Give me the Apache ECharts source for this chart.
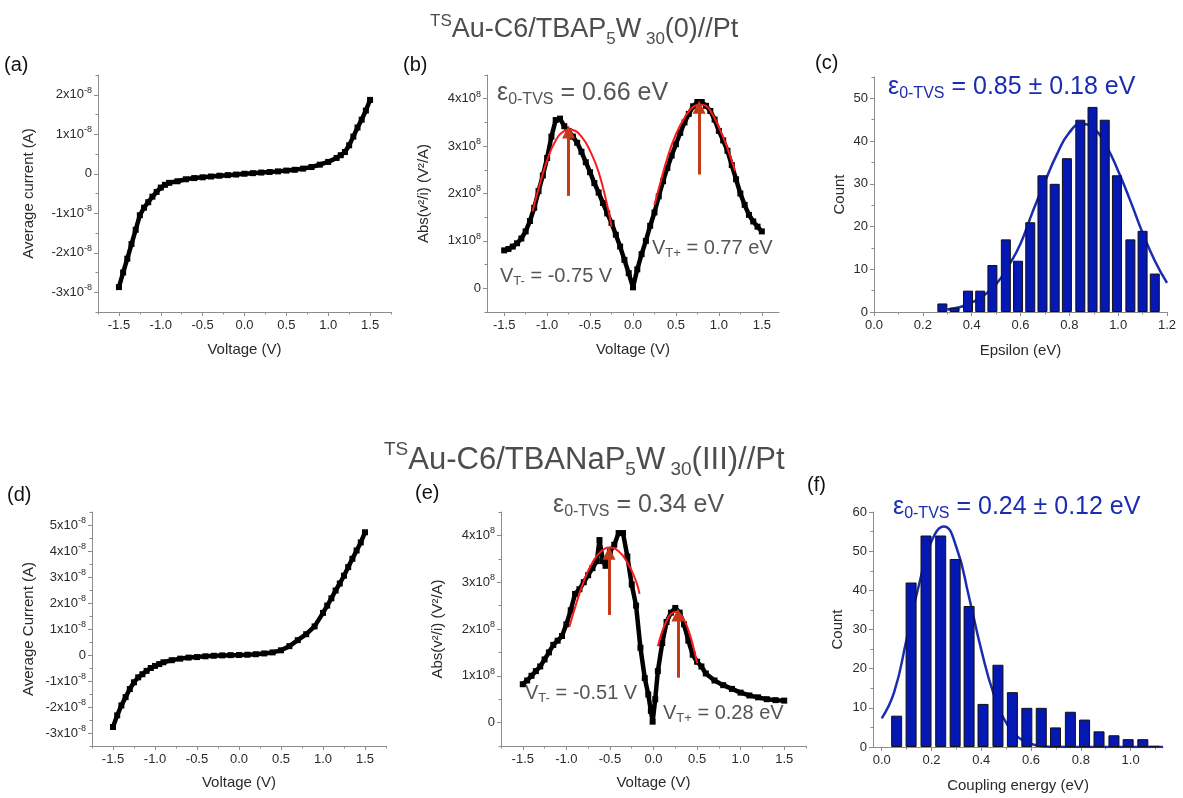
<!DOCTYPE html>
<html>
<head>
<meta charset="utf-8">
<title>TVS</title>
<script src="https://cdn.jsdelivr.net/npm/echarts@6/dist/echarts.min.js"></script>
<style>
  html, body { margin: 0; padding: 0; background: #fff; }
  #chart { width: 1183px; height: 798px; }
</style>
</head>
<body>
<div id="chart"></div>
<script>
// (a) I-V curve, TBAP5W30(0), current in 1e-8 A
const voltA = [-1.5, -1.45, -1.4, -1.35, -1.3, -1.25, -1.2, -1.15, -1.1, -1.05, -1.0, -0.95, -0.9, -0.8, -0.7, -0.6, -0.5, -0.4, -0.3, -0.2, -0.1, 0, 0.1, 0.2, 0.3, 0.4, 0.5, 0.6, 0.7, 0.8, 0.9, 1.0, 1.1, 1.15, 1.2, 1.25, 1.3, 1.35, 1.4, 1.45, 1.5]
const currA = [-2.87, -2.5, -2.15, -1.78, -1.42, -1.05, -0.86, -0.72, -0.58, -0.46, -0.35, -0.28, -0.23, -0.19, -0.14, -0.11, -0.09, -0.07, -0.05, -0.035, -0.02, 0, 0.015, 0.03, 0.045, 0.06, 0.08, 0.1, 0.13, 0.17, 0.23, 0.3, 0.4, 0.47, 0.55, 0.72, 0.94, 1.17, 1.37, 1.6, 1.87]

// (b) Abs(V^2/I), in 1e8 V^2/A
const voltB = [-1.5, -1.45, -1.4, -1.35, -1.3, -1.25, -1.2, -1.15, -1.1, -1.05, -1.0, -0.95, -0.9, -0.85, -0.8, -0.75, -0.7, -0.65, -0.6, -0.55, -0.5, -0.45, -0.4, -0.35, -0.3, -0.25, -0.2, -0.15, -0.1, -0.05, 0, 0.05, 0.1, 0.15, 0.2, 0.25, 0.3, 0.35, 0.4, 0.45, 0.5, 0.55, 0.6, 0.65, 0.7, 0.75, 0.8, 0.85, 0.9, 0.95, 1.0, 1.05, 1.1, 1.15, 1.2, 1.25, 1.3, 1.35, 1.4, 1.45, 1.5]
const absB = [0.8, 0.83, 0.88, 0.95, 1.05, 1.2, 1.42, 1.7, 2.05, 2.38, 2.75, 3.2, 3.55, 3.58, 3.42, 3.32, 3.2, 3.07, 2.88, 2.66, 2.45, 2.22, 2.02, 1.8, 1.58, 1.38, 1.13, 0.88, 0.6, 0.32, 0.02, 0.4, 0.72, 1.0, 1.32, 1.6, 1.94, 2.26, 2.54, 2.8, 3.04, 3.28, 3.5, 3.68, 3.84, 3.93, 3.93, 3.85, 3.74, 3.56, 3.32, 3.12, 2.9, 2.6, 2.3, 2.0, 1.76, 1.55, 1.41, 1.3, 1.2]
const fitBLeftV = [-1.17, -1.1, -1.0, -0.9, -0.8, -0.74, -0.7, -0.6, -0.5, -0.4, -0.3, -0.25]
const fitBLeft = [1.62, 2.1, 2.7, 3.12, 3.32, 3.35, 3.34, 3.2, 2.9, 2.45, 1.75, 1.3]
const fitBRightV = [0.25, 0.3, 0.4, 0.5, 0.6, 0.7, 0.78, 0.85, 0.9, 1.0, 1.1, 1.19]
const fitBRight = [1.76, 2.1, 2.75, 3.25, 3.6, 3.83, 3.88, 3.85, 3.75, 3.4, 2.95, 2.47]
const arrowBX = [-0.75, 0.77]
const arrowBFrom = [1.95, 2.4]
const arrowBTo = [3.3, 3.82]

// (c) histogram of epsilon
const binC = [0.28, 0.33, 0.385, 0.435, 0.485, 0.54, 0.59, 0.64, 0.69, 0.74, 0.79, 0.845, 0.895, 0.945, 0.995, 1.05, 1.1, 1.15]
const countC = [2, 1, 5, 5, 11, 17, 12, 21, 32, 30, 36, 45, 48, 45, 32, 17, 19, 9]
const fitCX = [0.3, 0.35, 0.4, 0.45, 0.5, 0.55, 0.6, 0.65, 0.7, 0.75, 0.8, 0.85, 0.9, 0.95, 1.0, 1.05, 1.1, 1.15, 1.2]
const fitC = [0.6, 1.1, 2.2, 3.9, 6.5, 10.7, 16, 23.5, 30.5, 37, 42, 44, 43, 39, 33, 26, 18.5, 12, 6.8]

// (d) I-V curve, TBANaP5W30(III), current in 1e-8 A
const voltD = [-1.5, -1.45, -1.4, -1.35, -1.3, -1.25, -1.2, -1.15, -1.1, -1.05, -1.0, -0.95, -0.9, -0.8, -0.7, -0.6, -0.5, -0.4, -0.3, -0.2, -0.1, 0, 0.1, 0.2, 0.3, 0.4, 0.5, 0.6, 0.7, 0.8, 0.9, 1.0, 1.05, 1.1, 1.15, 1.2, 1.25, 1.3, 1.35, 1.4, 1.45, 1.5]
const currD = [-2.77, -2.32, -1.94, -1.62, -1.31, -1.05, -0.86, -0.74, -0.61, -0.5, -0.42, -0.35, -0.28, -0.2, -0.14, -0.1, -0.08, -0.05, -0.03, -0.015, -0.005, 0, 0.01, 0.03, 0.06, 0.1, 0.18, 0.34, 0.57, 0.8, 1.1, 1.62, 1.9, 2.18, 2.48, 2.75, 3.05, 3.38, 3.7, 4.02, 4.33, 4.72]

// (e) Abs(V^2/I), in 1e8 V^2/A
const voltE = [-1.5, -1.45, -1.4, -1.35, -1.3, -1.25, -1.2, -1.15, -1.1, -1.05, -1.0, -0.95, -0.9, -0.85, -0.8, -0.75, -0.7, -0.65, -0.62, -0.58, -0.55, -0.5, -0.45, -0.4, -0.35, -0.3, -0.25, -0.2, -0.15, -0.1, -0.06, -0.03, -0.01, 0.02, 0.05, 0.1, 0.15, 0.2, 0.25, 0.3, 0.35, 0.4, 0.45, 0.5, 0.55, 0.6, 0.7, 0.8, 0.9, 1.0, 1.1, 1.2, 1.3, 1.4, 1.5]
const absE = [0.82, 0.9, 1.0, 1.1, 1.2, 1.35, 1.5, 1.66, 1.75, 1.85, 2.1, 2.4, 2.75, 2.85, 3.0, 3.15, 3.3, 3.45, 3.9, 3.45, 3.35, 3.65, 3.8, 4.05, 4.05, 3.55, 2.95, 2.5, 1.6, 0.95, 0.6, 0.25, 0.02, 0.5, 1.1, 1.7, 2.15, 2.35, 2.45, 2.35, 2.1, 1.75, 1.45, 1.3, 1.2, 1.05, 0.9, 0.8, 0.72, 0.64, 0.58, 0.54, 0.5, 0.48, 0.47]
const fitELeftV = [-0.965, -0.9, -0.8, -0.7, -0.6, -0.5, -0.4, -0.3, -0.2, -0.16]
const fitELeft = [2.05, 2.46, 3.02, 3.42, 3.66, 3.74, 3.66, 3.42, 3.02, 2.75]
const fitERightV = [0.05, 0.1, 0.15, 0.2, 0.26, 0.3, 0.35, 0.4, 0.45, 0.5]
const fitERight = [1.63, 1.95, 2.17, 2.32, 2.37, 2.33, 2.2, 1.98, 1.67, 1.27]
const arrowEX = [-0.51, 0.28]
const arrowEFrom = [2.3, 0.96]
const arrowETo = [3.62, 2.3]

// (f) histogram of coupling energy
const binF = [0.06, 0.118, 0.178, 0.237, 0.295, 0.351, 0.407, 0.467, 0.525, 0.583, 0.641, 0.698, 0.758, 0.815, 0.873, 0.933, 0.99, 1.049, 1.095]
const countF = [8, 42, 54, 54, 48, 36, 11, 21, 14, 10, 10, 5, 9, 7, 4, 3, 2, 2, 0.3]
const fitFX = [0, 0.05, 0.1, 0.15, 0.2, 0.25, 0.3, 0.35, 0.4, 0.45, 0.5, 0.55, 0.6, 0.65, 0.7, 0.8, 0.9, 1.0, 1.13]
const fitF = [7.3, 14, 27.5, 41.5, 52.5, 56.3, 51, 38.5, 24.8, 13.5, 6.2, 2.4, 0.8, 0.2, 0.05, 0, 0, 0, 0]

// tick values
const ivTicksX = [-1.5, -1.0, -0.5, 0, 0.5, 1.0, 1.5]
const ivMinorX = [-1.75, -1.25, -0.75, -0.25, 0.25, 0.75, 1.25, 1.75]
const aTicksY = [-3, -2, -1, 0, 1, 2]
const aMinorY = [-3.5, -2.5, -1.5, -0.5, 0.5, 1.5, 2.5]
const dTicksY = [-3, -2, -1, 0, 1, 2, 3, 4, 5]
const dMinorY = [-3.5, -2.5, -1.5, -0.5, 0.5, 1.5, 2.5, 3.5, 4.5, 5.5]
const tvsTicksY = [0, 1, 2, 3, 4]
const tvsMinorY = [-0.5, 0.5, 1.5, 2.5, 3.5, 4.5]
const cTicksX = [0, 0.2, 0.4, 0.6, 0.8, 1.0, 1.2]
const cMinorX = [0.1, 0.3, 0.5, 0.7, 0.9, 1.1]
const cTicksY = [0, 10, 20, 30, 40, 50]
const cMinorY = [5, 15, 25, 35, 45, 55]
const fTicksX = [0, 0.2, 0.4, 0.6, 0.8, 1.0]
const fMinorX = [0.1, 0.3, 0.5, 0.7, 0.9, 1.1]
const fTicksY = [0, 10, 20, 30, 40, 50, 60]
const fMinorY = [5, 15, 25, 35, 45, 55]

const FONT = '"Liberation Sans", Arial, sans-serif'
const AX = '#8c8c8c'
const TXT = '#2a2a2a'
const GRAY = '#555555'
const BLUE = '#1a2db0'
const BAR = '#0518b4'
const RED = '#ff1a1a'
const ARROW = '#c43a18'

const pair = (xs, ys) => xs.map((x, i) => [x, ys[i]])
const fixed1 = (v) => v.toFixed(1)
const sci = (exp) => (v) => (v === 0 ? '0' : '{n|' + v + 'x10}{s|' + exp + '}')
const sciRich = {
  n: { fontSize: 13, color: TXT, lineHeight: 18 },
  s: { fontSize: 9, color: TXT, lineHeight: 10, verticalAlign: 'top' }
}

// main axis + a label-less twin for the minor ticks
const xAxes = (g, min, max, major, minor, fmt, name, gap) => [
  {
    type: 'value', gridIndex: g, min, max, position: 'bottom',
    name, nameLocation: 'middle', nameGap: gap,
    nameTextStyle: { fontSize: 15, color: TXT, fontFamily: FONT },
    axisLine: { onZero: false, lineStyle: { color: AX } },
    axisTick: { customValues: major, length: 4, lineStyle: { color: AX } },
    axisLabel: { customValues: major, formatter: fmt, fontSize: 13, color: TXT, margin: 7 },
    splitLine: { show: false }
  },
  {
    type: 'value', gridIndex: g, min, max, position: 'bottom',
    axisLine: { show: false, onZero: false },
    axisTick: { customValues: minor, length: 2.5, lineStyle: { color: AX } },
    axisLabel: { show: false },
    splitLine: { show: false }
  }
]
const yAxes = (g, min, max, major, minor, fmt, name, gap) => [
  {
    type: 'value', gridIndex: g, min, max, position: 'left',
    name, nameLocation: 'middle', nameGap: gap,
    nameTextStyle: { fontSize: 15, color: TXT, fontFamily: FONT },
    axisLine: { show: true, onZero: false, lineStyle: { color: AX } },
    axisTick: { show: true, customValues: major, length: 4, lineStyle: { color: AX } },
    axisLabel: { customValues: major, formatter: fmt, fontSize: 13, color: TXT, margin: 6, rich: sciRich },
    splitLine: { show: false }
  },
  {
    type: 'value', gridIndex: g, min, max, position: 'left',
    axisLine: { show: false, onZero: false },
    axisTick: { show: true, customValues: minor, length: 2.5, lineStyle: { color: AX } },
    axisLabel: { show: false },
    splitLine: { show: false }
  }
]

const curve = (g, xs, ys) => ({
  type: 'line', xAxisIndex: 2 * g, yAxisIndex: 2 * g, data: pair(xs, ys),
  symbol: 'rect', symbolSize: 6, showSymbol: true,
  itemStyle: { color: '#000' }, lineStyle: { color: '#000', width: 4.5 }, z: 2
})
const fit = (g, xs, ys, color, width, z) => ({
  type: 'line', xAxisIndex: 2 * g, yAxisIndex: 2 * g, data: pair(xs, ys),
  smooth: true, showSymbol: false, lineStyle: { color, width }, z
})
const arrows = (g, xs, from, to) => ({
  type: 'line', xAxisIndex: 2 * g, yAxisIndex: 2 * g, data: [], z: 6,
  markLine: {
    silent: true, symbol: ['none', 'triangle'], symbolSize: 13,
    lineStyle: { color: ARROW, width: 3, type: 'solid' },
    itemStyle: { color: ARROW },
    label: { show: false },
    data: xs.map((x, i) => [{ coord: [x, from[i]] }, { coord: [x, to[i]] }])
  }
})
const hist = (g, xs, ys, width) => ({
  type: 'bar', xAxisIndex: 2 * g, yAxisIndex: 2 * g, data: pair(xs, ys),
  barWidth: width, z: 3,
  itemStyle: { color: BAR, borderColor: '#111', borderWidth: 1 }
})

const txt = (x, y, text, rich, fill, size) => ({
  type: 'text', x, y,
  style: {
    text, rich, fill, font: size + 'px ' + FONT,
    align: 'left', verticalAlign: 'middle', textAlign: 'left', textVerticalAlign: 'middle'
  }
})
const epsRich = (color) => ({
  e: { fontSize: 25, fill: color, fontFamily: FONT, lineHeight: 30 },
  s: { fontSize: 16, fill: color, fontFamily: FONT, lineHeight: 18, verticalAlign: 'bottom' },
  m: { fontSize: 25, fill: color, fontFamily: FONT, lineHeight: 30 }
})
const vtRich = {
  v: { fontSize: 20, fill: GRAY, fontFamily: FONT, lineHeight: 24 },
  s: { fontSize: 13, fill: GRAY, fontFamily: FONT, lineHeight: 14, verticalAlign: 'bottom' }
}
const titleRich = (size) => ({
  m: { fontSize: size, fill: '#4d4d4d', fontFamily: FONT, lineHeight: size + 8 },
  sub: { fontSize: Math.round(size * 0.62), fill: '#4d4d4d', fontFamily: FONT, lineHeight: 14, verticalAlign: 'bottom' },
  sup: { fontSize: Math.round(size * 0.62), fill: '#4d4d4d', fontFamily: FONT, lineHeight: 14, verticalAlign: 'top' }
})

const chart = echarts.init(document.getElementById('chart'))
chart.setOption({
  animation: false,
  backgroundColor: '#fff',
  textStyle: { fontFamily: FONT },
  grid: [
    { left: 98, top: 75, width: 293, height: 237 },
    { left: 487, top: 75, width: 292, height: 237 },
    { left: 874, top: 77, width: 293, height: 235 },
    { left: 92, top: 512, width: 294, height: 234 },
    { left: 501, top: 512, width: 305, height: 234 },
    { left: 873, top: 512, width: 290, height: 235 }
  ],
  xAxis: [
    ...xAxes(0, -1.75, 1.75, ivTicksX, ivMinorX, fixed1, 'Voltage (V)', 30),
    ...xAxes(1, -1.7, 1.7, ivTicksX, ivMinorX, fixed1, 'Voltage (V)', 30),
    ...xAxes(2, 0, 1.2, cTicksX, cMinorX, fixed1, 'Epsilon (eV)', 31),
    ...xAxes(3, -1.75, 1.75, ivTicksX, ivMinorX, fixed1, 'Voltage (V)', 29),
    ...xAxes(4, -1.75, 1.75, ivTicksX, ivMinorX, fixed1, 'Voltage (V)', 29),
    ...xAxes(5, -0.035, 1.13, fTicksX, fMinorX, fixed1, 'Coupling energy (eV)', 31)
  ],
  yAxis: [
    ...yAxes(0, -3.5, 2.5, aTicksY, aMinorY, sci('-8'), 'Average current (A)', 62),
    ...yAxes(1, -0.5, 4.5, tvsTicksY, tvsMinorY, sci('8'), 'Abs(v²/i) (V²/A)', 56),
    ...yAxes(2, 0, 55, cTicksY, cMinorY, (v) => String(v), 'Count', 27),
    ...yAxes(3, -3.5, 5.5, dTicksY, dMinorY, sci('-8'), 'Average Current (A)', 56),
    ...yAxes(4, -0.5, 4.5, tvsTicksY, tvsMinorY, sci('8'), 'Abs(v²/i) (V²/A)', 56),
    ...yAxes(5, 0, 60, fTicksY, fMinorY, (v) => String(v), 'Count', 28)
  ],
  series: [
    curve(0, voltA, currA),
    curve(1, voltB, absB),
    fit(1, fitBLeftV, fitBLeft, RED, 2, 4),
    fit(1, fitBRightV, fitBRight, RED, 2, 4),
    arrows(1, arrowBX, arrowBFrom, arrowBTo),
    hist(2, binC, countC, 10),
    fit(2, fitCX, fitC, BLUE, 2.5, 1),
    curve(3, voltD, currD),
    curve(4, voltE, absE),
    fit(4, fitELeftV, fitELeft, RED, 2, 4),
    fit(4, fitERightV, fitERight, RED, 2, 4),
    arrows(4, arrowEX, arrowEFrom, arrowETo),
    hist(5, binF, countF, 11),
    fit(5, fitFX, fitF, BLUE, 2.5, 1)
  ],
  graphic: [
    txt(430, 30, '{sup|TS}{m|Au-C6/TBAP}{sub|5}{m|W}{sub| 30}{m|(0)//Pt}', titleRich(27), '#4d4d4d', 27),
    txt(384, 460, '{sup|TS}{m|Au-C6/TBANaP}{sub|5}{m|W}{sub| 30}{m|(III)//Pt}', titleRich(31), '#4d4d4d', 31),
    txt(4, 65, '(a)', null, '#111', 20),
    txt(403, 65, '(b)', null, '#111', 20),
    txt(815, 63, '(c)', null, '#111', 20),
    txt(7, 495, '(d)', null, '#111', 20),
    txt(415, 493, '(e)', null, '#111', 20),
    txt(807, 485, '(f)', null, '#111', 20),
    txt(497, 93, '{e|ε}{s|0-TVS}{m| = 0.66 eV}', epsRich(GRAY), GRAY, 25),
    txt(888, 87, '{e|ε}{s|0-TVS}{m| = 0.85 ± 0.18 eV}', epsRich(BLUE), BLUE, 25),
    txt(553, 505, '{e|ε}{s|0-TVS}{m| = 0.34 eV}', epsRich(GRAY), GRAY, 25),
    txt(893, 507, '{e|ε}{s|0-TVS}{m| = 0.24 ± 0.12 eV}', epsRich(BLUE), BLUE, 25),
    txt(652, 248, '{v|V}{s|T+}{v| = 0.77 eV}', vtRich, GRAY, 20),
    txt(500, 276, '{v|V}{s|T-}{v| = -0.75 V}', vtRich, GRAY, 20),
    txt(525, 693, '{v|V}{s|T-}{v| = -0.51 V}', vtRich, GRAY, 20),
    txt(663, 713, '{v|V}{s|T+}{v| = 0.28 eV}', vtRich, GRAY, 20)
  ]
})
</script>
</body>
</html>
